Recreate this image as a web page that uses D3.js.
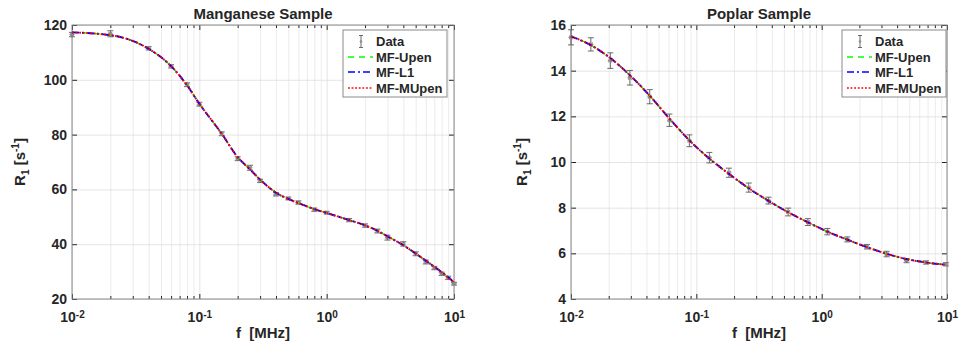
<!DOCTYPE html>
<html>
  <head>
    <meta charset="utf-8">
    <title>R1 dispersion</title>
    <style>
      body { margin: 0; padding: 0; background: #fff; }
      svg text { font-family: 'Liberation Sans', Arial, sans-serif; font-weight: bold; fill: #262626; }
    </style>
  </head>
  <body>
    <div id="chart"></div>
    <script src="https://cdnjs.cloudflare.com/ajax/libs/d3/7.8.5/d3.min.js"></script>
    <script>
      // Manganese sample (left)
      const mnFreq = [0.01, 0.02, 0.04, 0.06, 0.08, 0.1, 0.15, 0.2, 0.25, 0.3, 0.4, 0.5, 0.6, 0.8, 1.0,
                      1.5, 2, 2.5, 3, 4, 5, 6, 7, 8, 9, 10];
      const mnR1 = [116.5, 116.8, 111.5, 104.9, 98.2, 91.1, 80.3, 71.2, 67.9, 63.1, 58.2, 56.7, 55.2, 52.6, 51.5,
                    48.8, 46.8, 44.8, 42.4, 40.1, 36.5, 33.5, 31.3, 29.2, 27.7, 25.6];
      const mnErr = [0.8, 1.1, 0.6, 0.6, 0.7, 0.7, 0.7, 0.7, 0.9, 0.6, 0.6, 0.5, 0.6, 0.6, 0.5,
                     0.6, 0.6, 0.7, 0.9, 0.8, 0.7, 0.7, 0.6, 0.6, 0.6, 0.5];
      const mnUpen = [117.3, 116.3, 111.3, 105.0, 98.0, 91.3, 80.3, 71.8, 67.3, 63.6, 58.8, 56.5, 55.0, 52.8, 51.4,
                      48.8, 46.9, 44.9, 42.9, 39.6, 36.6, 34.0, 31.8, 29.8, 27.9, 26.1];
      const mnL1 = [117.3, 116.3, 111.3, 105.0, 98.0, 91.3, 80.3, 71.8, 67.3, 63.6, 58.8, 56.5, 55.0, 52.8, 51.4,
                    48.8, 46.9, 44.9, 42.9, 39.6, 36.6, 34.0, 31.8, 29.8, 27.9, 26.1];
      const mnMUpen = [117.3, 116.3, 111.3, 105.0, 98.0, 91.3, 80.3, 71.8, 67.3, 63.6, 58.8, 56.5, 55.0, 52.8, 51.4,
                       48.8, 46.9, 44.9, 42.9, 39.6, 36.6, 34.0, 31.8, 29.8, 27.9, 26.1];
      const mnYTicks = [20, 40, 60, 80, 100, 120];

      // Poplar sample (right)
      const ppFreq = [0.01, 0.0144, 0.0206, 0.0295, 0.0425, 0.061, 0.088, 0.127, 0.182, 0.262, 0.376, 0.54,
                      0.776, 1.11, 1.6, 2.3, 3.3, 4.75, 6.8, 9.8];
      const ppR1 = [15.46, 15.15, 14.44, 13.69, 12.86, 11.83, 10.93, 10.19, 9.53, 8.88, 8.31, 7.81,
                    7.37, 6.95, 6.61, 6.29, 5.97, 5.68, 5.60, 5.52];
      const ppErr = [0.33, 0.29, 0.34, 0.32, 0.31, 0.27, 0.26, 0.23, 0.2, 0.2, 0.15, 0.17,
                     0.15, 0.14, 0.11, 0.1, 0.12, 0.09, 0.07, 0.07];
      const ppUpen = [15.5, 15.12, 14.55, 13.8, 12.9, 11.9, 10.95, 10.15, 9.48, 8.85, 8.3, 7.8,
                      7.36, 6.95, 6.6, 6.27, 5.98, 5.75, 5.6, 5.5];
      const ppL1 = [15.5, 15.12, 14.55, 13.8, 12.9, 11.9, 10.95, 10.15, 9.48, 8.85, 8.3, 7.8,
                    7.36, 6.95, 6.6, 6.27, 5.98, 5.75, 5.6, 5.5];
      const ppMUpen = [15.5, 15.12, 14.55, 13.8, 12.9, 11.9, 10.95, 10.15, 9.48, 8.85, 8.3, 7.8,
                       7.36, 6.95, 6.6, 6.27, 5.98, 5.75, 5.6, 5.5];
      const ppYTicks = [4, 6, 8, 10, 12, 14, 16];

      const xDecades = [-2, -1, 0, 1];
      const legendLabels = ['Data', 'MF-Upen', 'MF-L1', 'MF-MUpen'];
      const fitColors = ['#00ff00', '#0000ff', '#ff0000'];
      const fitDash = ['6,5', '7,3,2,3', '1.8,1.8'];
      const fitWidth = [1.4, 1.9, 1.9];

      const svg = d3.select('#chart').append('svg')
        .attr('width', 967).attr('height', 344);

      function drawPanel(p) {
        const g = svg.append('g');
        const x = d3.scaleLog().domain([0.01, 10]).range([p.x0, p.x1]);
        const y = d3.scaleLinear().domain([p.yTicks[0], p.yTicks[p.yTicks.length - 1]]).range([p.y1, p.y0]);
        const h = p.y1 - p.y0, w = p.x1 - p.x0;
        const majors = xDecades.map(e => Math.pow(10, e));
        const minors = x.ticks().filter(t => !majors.some(m => Math.abs(m - t) < 1e-9));

        // grid
        const gridMinor = g.append('g').attr('transform', `translate(0,${p.y1})`)
          .call(d3.axisBottom(x).tickValues(minors).tickSize(-h).tickFormat(''));
        gridMinor.selectAll('line').attr('stroke', '#e4e4e4').attr('stroke-width', 0.7);
        const gridMajor = g.append('g').attr('transform', `translate(0,${p.y1})`)
          .call(d3.axisBottom(x).tickValues(majors).tickSize(-h).tickFormat(''));
        gridMajor.selectAll('line').attr('stroke', '#dedede').attr('stroke-width', 0.8);
        const gridY = g.append('g').attr('transform', `translate(${p.x0},0)`)
          .call(d3.axisLeft(y).tickValues(p.yTicks).tickSize(-w).tickFormat(''));
        gridY.selectAll('line').attr('stroke', '#dedede').attr('stroke-width', 0.8);
        g.selectAll('.domain').remove();

        // axes (ticks inward on all four sides)
        const axes = g.append('g');
        const bottom = axes.append('g').attr('transform', `translate(0,${p.y1})`)
          .call(d3.axisBottom(x).tickValues(majors).tickSizeInner(-5).tickSizeOuter(0).tickPadding(9));
        bottom.selectAll('.tick text').each(function (d) {
          const t = d3.select(this).text(null).attr('font-size', 14).attr('dy', '1.0em');
          t.append('tspan').text('10');
          t.append('tspan').attr('dy', '-0.45em').attr('font-size', 10).text(Math.round(Math.log10(d)));
        });
        axes.append('g').attr('transform', `translate(0,${p.y1})`)
          .call(d3.axisBottom(x).tickValues(minors).tickSizeInner(-3).tickSizeOuter(0).tickFormat(''));
        axes.append('g').attr('transform', `translate(0,${p.y0})`)
          .call(d3.axisTop(x).tickValues(majors).tickSizeInner(-5).tickSizeOuter(0).tickFormat(''));
        axes.append('g').attr('transform', `translate(0,${p.y0})`)
          .call(d3.axisTop(x).tickValues(minors).tickSizeInner(-3).tickSizeOuter(0).tickFormat(''));
        axes.append('g').attr('transform', `translate(${p.x0},0)`)
          .call(d3.axisLeft(y).tickValues(p.yTicks).tickSizeInner(-5).tickSizeOuter(0).tickPadding(5))
          .selectAll('.tick text').attr('font-size', 14);
        axes.append('g').attr('transform', `translate(${p.x1},0)`)
          .call(d3.axisRight(y).tickValues(p.yTicks).tickSizeInner(-5).tickSizeOuter(0).tickFormat(''));
        axes.selectAll('.domain').remove();
        axes.selectAll('line').attr('stroke', '#262626');
        axes.selectAll('.tick text').attr('fill', '#262626').attr('font-family', null);

        g.append('rect').attr('x', p.x0).attr('y', p.y0).attr('width', w).attr('height', h)
          .attr('fill', 'none').attr('stroke', '#8a8a8a').attr('stroke-width', 1);

        // error bars + markers
        const eb = g.append('g').attr('stroke', '#5a5a5a').attr('stroke-width', 0.9);
        p.freq.forEach((f, i) => {
          const cx = x(f), lo = y(p.r1[i] - p.err[i]), hi = y(p.r1[i] + p.err[i]);
          eb.append('line').attr('x1', cx).attr('x2', cx).attr('y1', lo).attr('y2', hi);
          eb.append('line').attr('x1', cx - 3).attr('x2', cx + 3).attr('y1', lo).attr('y2', lo);
          eb.append('line').attr('x1', cx - 3).attr('x2', cx + 3).attr('y1', hi).attr('y2', hi);
          const cy = y(p.r1[i]);
          eb.append('path').attr('stroke', '#8c8c8c').attr('stroke-width', 1.1)
            .attr('d', `M${cx - 2.5},${cy}H${cx + 2.5}M${cx - 1.8},${cy - 1.8}L${cx + 1.8},${cy + 1.8}M${cx - 1.8},${cy + 1.8}L${cx + 1.8},${cy - 1.8}`);
        });

        // fitted curves
        const line = d3.line().x(d => x(d[0])).y(d => y(d[1])).curve(d3.curveMonotoneX);
        p.fits.forEach((vals, k) => {
          g.append('path').datum(p.freq.map((f, i) => [f, vals[i]]))
            .attr('d', line).attr('fill', 'none')
            .attr('stroke', fitColors[k]).attr('stroke-width', fitWidth[k])
            .attr('stroke-dasharray', fitDash[k]);
        });

        // title and axis labels
        svg.append('text').attr('x', (p.x0 + p.x1) / 2).attr('y', 19).attr('text-anchor', 'middle')
          .attr('font-size', 15).text(p.title);
        svg.append('text').attr('x', (p.x0 + p.x1) / 2).attr('y', 338).attr('text-anchor', 'middle')
          .attr('font-size', 15).style('white-space', 'pre').text('f  [MHz]');
        const yl = svg.append('text').attr('text-anchor', 'middle').attr('font-size', 15)
          .attr('transform', `translate(${p.ylabX},${(p.y0 + p.y1) / 2}) rotate(-90)`);
        yl.append('tspan').text('R');
        yl.append('tspan').attr('dy', 4).attr('font-size', 10).text('1');
        yl.append('tspan').attr('dy', -4).style('white-space', 'pre').text(' [s');
        yl.append('tspan').attr('dy', -6).attr('font-size', 10).text('-1');
        yl.append('tspan').attr('dy', 6).text(']');

        // legend
        const lg = svg.append('g').attr('transform', `translate(${p.legX},30)`);
        lg.append('rect').attr('width', 104).attr('height', 67)
          .attr('fill', '#fff').attr('stroke', '#8a8a8a').attr('stroke-width', 1);
        const rowY = [11.5, 27, 42, 58];
        legendLabels.forEach((lab, k) => {
          lg.append('text').attr('x', 33).attr('y', rowY[k] + 4.5).attr('font-size', 13).text(lab);
          if (k === 0) {
            lg.append('path').attr('stroke', '#5a5a5a').attr('stroke-width', 0.9).attr('fill', 'none')
              .attr('d', `M18,${rowY[k] - 6}V${rowY[k] + 6}M16,${rowY[k] - 6}H20M16,${rowY[k] + 6}H20`);
            lg.append('circle').attr('cx', 18).attr('cy', rowY[k]).attr('r', 1.3).attr('fill', '#8c8c8c');
          } else {
            lg.append('line').attr('x1', 5).attr('x2', 30).attr('y1', rowY[k]).attr('y2', rowY[k])
              .attr('stroke', fitColors[k - 1]).attr('stroke-width', 1.6)
              .attr('stroke-dasharray', fitDash[k - 1]);
          }
        });
      }

      drawPanel({
        title: 'Manganese Sample', x0: 72, x1: 454, y0: 25, y1: 299, ylabX: 25, legX: 343,
        yTicks: mnYTicks, freq: mnFreq, r1: mnR1, err: mnErr, fits: [mnUpen, mnL1, mnMUpen]
      });
      drawPanel({
        title: 'Poplar Sample', x0: 571, x1: 947, y0: 25, y1: 299, ylabX: 527, legX: 842,
        yTicks: ppYTicks, freq: ppFreq, r1: ppR1, err: ppErr, fits: [ppUpen, ppL1, ppMUpen]
      });
    </script>
  </body>
</html>
